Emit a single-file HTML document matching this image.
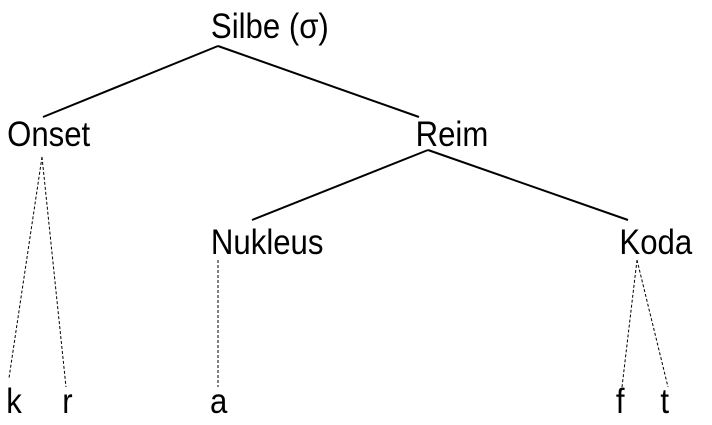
<!DOCTYPE html>
<html><head><meta charset="utf-8"><style>
html,body{margin:0;padding:0;background:#fff;}
svg{display:block;}
text{font-family:"Liberation Sans",Arial,sans-serif;font-size:35px;fill:#000;}
</style></head><body>
<svg width="712" height="425" viewBox="0 0 712 425" xmlns="http://www.w3.org/2000/svg">
<g stroke="#000" stroke-width="2" fill="none">
<line x1="218" y1="46" x2="43" y2="117"/>
<line x1="218" y1="46" x2="419" y2="117"/>
<line x1="428" y1="150" x2="252" y2="220"/>
<line x1="428" y1="150" x2="628" y2="220"/>
</g>
<g stroke="#000" stroke-width="1" stroke-dasharray="3,2" fill="none">
<line x1="42" y1="157" x2="9" y2="378"/>
<line x1="42" y1="157" x2="66" y2="387"/>
<line x1="218" y1="260" x2="218" y2="387"/>
<line x1="637" y1="260" x2="622" y2="387"/>
<line x1="637" y1="260" x2="668" y2="387"/>
</g>
<g transform="scale(0.89,1)">
<text x="237" y="38">Silbe (σ)</text>
<text x="8" y="146">Onset</text>
<text x="467" y="146">Reim</text>
<text x="237" y="254">Nukleus</text>
<text x="696" y="254">Koda</text>
<text x="7" y="413">k</text>
<text x="70" y="413">r</text>
<text x="236" y="413">a</text>
<text x="692" y="413">f</text>
<text x="742" y="413">t</text>
</g>
</svg>
</body></html>
